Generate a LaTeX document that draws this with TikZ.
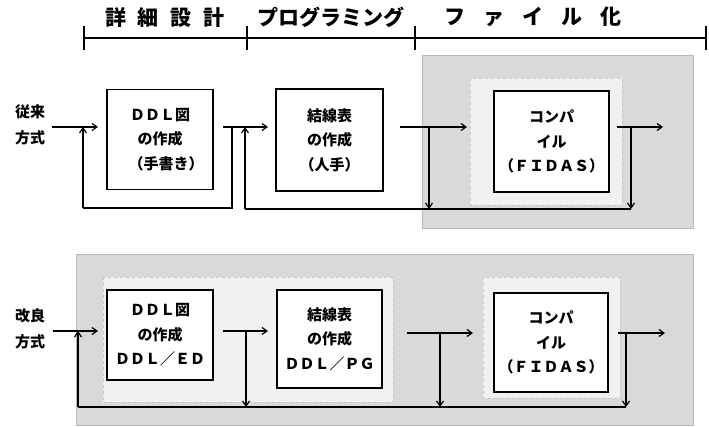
\documentclass[tikz,border=0pt]{standalone}
\usepackage{fontspec}
\setmainfont{Noto Sans CJK JP}
\newfontfamily\cjk{Noto Sans CJK JP}
\usetikzlibrary{arrows.meta}
\begin{document}
\begin{tikzpicture}[x=1pt,y=-1pt,
  ln/.style={line width=1.3pt},
  arr/.style={line width=1.3pt,-{Straight Barb[length=5pt,width=7pt,line width=1.2pt]}},
  procbox/.style={draw,line width=1.6pt,fill=white,align=center,inner sep=0pt,
     font=\cjk\bfseries\fontsize{15}{24.5}\selectfont},
  side/.style={align=center,font=\cjk\bfseries\fontsize{15}{26}\selectfont},
  head/.style={font=\cjk\bfseries\fontsize{21}{24}\selectfont},
  outershade/.style={fill=gray!30,draw=gray!55,line width=0.6pt},
  innershade/.style={fill=gray!11,draw=gray!45,line width=0.5pt,dashed}]
\useasboundingbox (0,0) rectangle (709,427);

% shaded regions
\fill[outershade] (422,55) rectangle (693,228);
\fill[innershade] (470,78) rectangle (622,205);
\fill[outershade] (76,254) rectangle (693,425);
\fill[innershade] (103,277) rectangle (393,402);
\fill[innershade] (483,277) rectangle (620,398);

% header timeline
\coordinate (h0) at (84,38);
\coordinate (h1) at (247,38);
\coordinate (h2) at (415,38);
\coordinate (h3) at (706,38);
\draw[ln] (h0) -- (h3);
\foreach \p in {h0,h1,h2,h3} \draw[line width=1.3pt] ([yshift=-12pt]\p) -- ([yshift=12pt]\p);
\node[head] (p1) at (165,17) {詳\hspace{12pt}細\hspace{12pt}設\hspace{12pt}計};
\node[head] (p2) at (331,17) {プログラミング};
\node[head] (p3) at (533,17) {フ\hspace{18pt}ァ\hspace{18pt}イ\hspace{18pt}ル\hspace{18pt}化};

% ---------- top row ----------
\node[side] (s1) at (30,125) {従来\\方式};
\node[procbox,minimum width=106pt,minimum height=100pt] (a1) at (160,139.5)
  {ＤＤＬ図\\の作成\\\hspace{12pt}（手書き）};
\node[procbox,minimum width=107pt,minimum height=102pt] (a2) at (329.5,140)
  {結線表\\の作成\\（人手）};
\node[procbox,minimum width=115pt,minimum height=101pt] (a3) at (551.5,141.5)
  {コンパ\\イル\\（ＦＩＤＡＳ）};

\coordinate (tA) at (52,127);
\coordinate (tA2) at (98,127);
\coordinate (tB) at (223,127);
\coordinate (tB2) at (268,127);
\coordinate (tJ1) at (232,127);
\coordinate (tJ1b) at (232,208);
\coordinate (tF1) at (83,208);
\coordinate (tF1t) at (83,127);
\coordinate (tF2) at (245,209);
\coordinate (tF2t) at (245,127);
\coordinate (tC) at (400,127);
\coordinate (tC2) at (467,127);
\coordinate (tJ2) at (429,127);
\coordinate (tJ2b) at (429,209);
\coordinate (tD) at (617,127);
\coordinate (tD2) at (663,127);
\coordinate (tJ3) at (631,127);
\coordinate (tJ3b) at (631,209);

\draw[arr] (tA) -- (tA2);
\draw[arr] (tB) -- (tB2);
\draw[arr] (tC) -- (tC2);
\draw[arr] (tD) -- (tD2);
\draw[ln] (tJ1) -- (tJ1b) -- (tF1);
\draw[arr] (tF1) -- (tF1t);
\draw[ln] (tF2) -- (tJ3b);
\draw[arr] (tF2) -- (tF2t);
\draw[arr] (tJ2) -- (tJ2b);
\draw[arr] (tJ3) -- (tJ3b);

% ---------- bottom row ----------
\node[side] (s2) at (30,329) {改良\\方式};
\node[procbox,minimum width=106pt,minimum height=90pt] (b1) at (160,335)
  {ＤＤＬ図\\の作成\\ＤＤＬ／ＥＤ};
\node[procbox,minimum width=105pt,minimum height=98pt] (b2) at (329.5,339)
  {結線表\\の作成\\ＤＤＬ／ＰＧ};
\node[procbox,minimum width=114pt,minimum height=99pt] (b3) at (551,342.5)
  {コンパ\\イル\\（ＦＩＤＡＳ）};

\coordinate (bA) at (53,331);
\coordinate (bA2) at (98,331);
\coordinate (bB) at (223,331);
\coordinate (bB2) at (268,331);
\coordinate (bC) at (407,333);
\coordinate (bC2) at (473,333);
\coordinate (bD) at (618,333);
\coordinate (bD2) at (665,333);
\coordinate (bF) at (78,407);
\coordinate (bFt) at (78,331);
\coordinate (bJ1) at (246,331);
\coordinate (bJ1b) at (246,407);
\coordinate (bJ2) at (440,333);
\coordinate (bJ2b) at (440,407);
\coordinate (bJ3) at (626,333);
\coordinate (bJ3b) at (626,407);

\draw[arr] (bA) -- (bA2);
\draw[arr] (bB) -- (bB2);
\draw[arr] (bC) -- (bC2);
\draw[arr] (bD) -- (bD2);
\draw[ln] (bF) -- (bJ3b);
\draw[arr] (bF) -- (bFt);
\draw[arr] (bJ1) -- (bJ1b);
\draw[arr] (bJ2) -- (bJ2b);
\draw[arr] (bJ3) -- (bJ3b);
\end{tikzpicture}
\end{document}
